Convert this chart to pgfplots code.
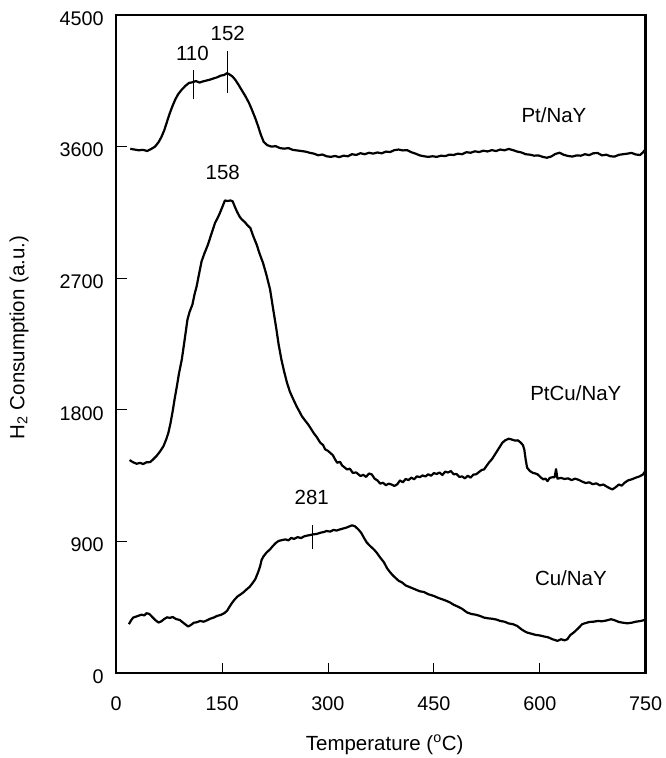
\documentclass[border=0pt]{standalone}
\usepackage{pgfplots}
\pgfplotsset{compat=1.18}
\usepackage{fontspec}
\setmainfont{Liberation Sans}
\begin{document}
\begin{tikzpicture}
\begin{axis}[
  at={(0,0)}, anchor=south west,
  scale only axis, width=530.2pt, height=659pt,
  xmin=0, xmax=750, ymin=0, ymax=4500,
  xtick={0,150,...,750}, ytick={0,900,...,4500},
  tick align=inside, xtick pos=bottom, ytick pos=left,
  major tick length=10.5pt,
  tick style={line width=0.9pt, black},
  axis line style={line width=2.6pt},
  /pgf/number format/assume math mode=true,
  /pgf/number format/1000 sep={},
  tick label style={font=\fontsize{19.8}{22}\selectfont},
  xticklabel style={yshift=-20pt},
  yticklabel style={xshift=-9pt, yshift=-3.5pt},
  clip=false,
]
% Pt/NaY
\addplot[black, line width=2.2pt, line join=round] coordinates {
(20,3585) (26,3580) (32,3575) (38,3578) (44,3570) (50,3585) (55,3600) (60,3630) (64,3665) (68,3710) (72,3770) (76,3829) (80,3880) (84,3925) (88,3960) (93,3990) (98,4015) (103,4035) (108,4040) (113,4048) (118,4038) (123,4046) (128,4052) (133,4058) (138,4066) (143,4074) (148,4085) (153,4090) (157,4102) (161,4092) (165,4078) (169,4055) (173,4025) (178,3985) (183,3945) (188,3900) (192,3855) (197,3795) (201,3740) (205,3680) (209,3632) (214,3610) (220,3600) (226,3603) (232,3590) (238,3586) (244,3590) (250,3578) (256,3574) (262,3570) (268,3566) (274,3558) (280,3552) (286,3541) (292,3546) (298,3534) (304,3530) (310,3536) (316,3528) (322,3538) (328,3534) (334,3548) (340,3543) (346,3555) (352,3548) (358,3558) (364,3552) (370,3560) (376,3554) (382,3566) (388,3563) (394,3576) (400,3580) (406,3574) (412,3576) (418,3562) (424,3552) (430,3540) (436,3534) (442,3530) (448,3534) (454,3530) (460,3538) (466,3535) (472,3545) (478,3543) (484,3552) (490,3548) (496,3562) (502,3558) (508,3568) (514,3563) (520,3572) (526,3567) (532,3576) (538,3570) (544,3580) (550,3575) (556,3584) (562,3576) (568,3566) (574,3560) (580,3548) (586,3545) (592,3538) (598,3540) (604,3530) (610,3524) (616,3532) (622,3550) (628,3558) (634,3544) (640,3536) (646,3532) (652,3540) (658,3538) (664,3548) (670,3542) (676,3555) (682,3556) (688,3540) (694,3545) (700,3534) (706,3532) (712,3544) (718,3548) (724,3552) (730,3557) (736,3546) (742,3543) (746,3560) (750,3585)
};
% PtCu/NaY
\addplot[black, line width=2.2pt, line join=round] coordinates {
(19,1457) (24,1442) (29,1432) (34,1438) (38,1430) (43,1442) (48,1443) (52,1460) (57,1484) (62,1515) (67,1552) (71,1600) (74,1644) (77,1710) (80,1790) (83,1880) (86,1962) (89,2050) (93,2145) (97,2280) (101,2418) (104,2470) (108,2520) (111,2590) (114,2645) (117,2720) (121,2816) (125,2870) (130,2930) (135,3005) (140,3078) (144,3115) (147,3147) (151,3195) (154,3232) (158,3228) (162,3232) (165,3226) (168,3190) (171,3157) (175,3120) (178,3102) (182,3085) (186,3062) (190,3044) (194,2990) (199,2930) (203,2870) (208,2805) (213,2720) (218,2623) (222,2500) (227,2350) (230,2250) (234,2145) (238,2060) (242,1985) (246,1925) (251,1871) (256,1820) (260,1785) (263,1757) (268,1725) (272,1700) (275,1678) (280,1640) (284,1615) (289,1576) (293,1560) (296,1530) (300,1520) (303,1507) (307,1490) (310,1462) (313,1439) (317,1445) (320,1420) (324,1405) (327,1393) (331,1398) (335,1370) (340,1372) (346,1348) (350,1356) (354,1342) (358,1365) (362,1359) (366,1330) (370,1318) (374,1296) (378,1302) (382,1285) (386,1296) (390,1290) (394,1280) (398,1291) (402,1318) (406,1305) (410,1328) (414,1320) (418,1337) (422,1326) (426,1346) (430,1340) (434,1352) (438,1345) (442,1360) (446,1350) (450,1368) (454,1362) (458,1372) (462,1355) (466,1378) (470,1372) (474,1382) (478,1360) (482,1362) (486,1342) (490,1345) (494,1332) (498,1350) (502,1337) (506,1358) (510,1360) (514,1376) (518,1390) (521,1393) (525,1420) (528,1440) (532,1462) (535,1484) (539,1515) (543,1545) (547,1576) (551,1592) (556,1603) (560,1598) (565,1590) (569,1592) (573,1576) (576,1560) (578,1530) (580,1460) (582,1405) (586,1382) (590,1370) (594,1365) (597,1359) (601,1340) (605,1325) (608,1330) (611,1313) (614,1335) (618,1340) (621,1340) (623,1395) (625,1330) (630,1335) (635,1328) (640,1332) (645,1320) (650,1330) (655,1322) (660,1310) (665,1300) (670,1305) (675,1292) (680,1298) (685,1284) (690,1290) (695,1275) (700,1262) (703,1257) (707,1270) (712,1290) (716,1282) (720,1302) (725,1318) (730,1325) (736,1337) (741,1345) (746,1358) (749,1380) (750,1405)
};
% Cu/NaY
\addplot[black, line width=2.2pt, line join=round] coordinates {
(18,335) (21,360) (24,380) (30,390) (36,400) (40,395) (43,410) (47,405) (51,385) (55,365) (60,346) (64,355) (68,370) (72,382) (76,378) (80,384) (85,370) (90,364) (95,345) (99,330) (102,319) (106,330) (110,345) (114,348) (119,357) (124,352) (128,360) (133,372) (138,380) (143,392) (148,398) (153,410) (157,426) (160,450) (164,480) (168,505) (172,525) (176,538) (180,552) (185,574) (189,590) (193,615) (197,642) (201,690) (204,733) (206,775) (209,801) (213,825) (218,847) (222,870) (226,890) (230,904) (235,910) (240,915) (244,908) (248,925) (252,918) (257,930) (262,924) (266,935) (270,940) (275,945) (279,949) (284,952) (289,960) (294,965) (298,972) (303,968) (308,980) (312,975) (317,983) (322,990) (326,995) (330,1003) (334,1011) (338,1005) (343,983) (347,960) (351,925) (355,893) (360,868) (365,846) (369,824) (374,790) (379,760) (384,715) (388,690) (392,668) (396,650) (400,632) (405,620) (410,600) (415,590) (420,580) (425,570) (430,560) (436,555) (442,540) (450,528) (456,515) (462,505) (468,494) (473,483) (478,468) (484,455) (490,440) (497,415) (503,405) (509,400) (515,392) (521,380) (527,375) (533,372) (539,366) (544,357) (550,352) (556,340) (562,335) (568,323) (574,300) (579,285) (582,278) (588,270) (594,262) (600,258) (606,251) (612,245) (618,232) (622,226) (625,221) (630,232) (635,225) (639,232) (643,260) (648,278) (654,305) (660,335) (665,343) (670,350) (676,352) (682,357) (688,355) (694,360) (701,369) (706,362) (712,350) (718,345) (724,341) (730,345) (736,352) (743,357) (747,362) (750,369)
};
% peak markers
\addplot[black, line width=0.8pt] coordinates {(110,3925) (110,4125)};
\addplot[black, line width=0.8pt] coordinates {(158,3966) (158,4257)};
\addplot[black, line width=0.8pt] coordinates {(278,847) (278,1011)};
\begin{scope}[font=\fontsize{20.5}{24}\selectfont]
\node at (axis cs:108,4240) {110};
\node at (axis cs:158,4375) {152};
\node at (axis cs:151,3424) {158};
\node at (axis cs:277,1200) {281};
\node at (axis cs:620,3818) {Pt/NaY};
\node at (axis cs:651,1917) {PtCu/NaY};
\node at (axis cs:644,647) {Cu/NaY};
\node at (axis description cs:0.507,-0.109) {Temperature (\textsuperscript{o}C)};
\node[rotate=90] at (axis description cs:-0.1835,0.51) {H\textsubscript{2} Consumption (a.u.)};
\end{scope}
\end{axis}
\path[use as bounding box] (-116.3pt,-84pt) rectangle (547.7pt,674pt);
\end{tikzpicture}
\end{document}
